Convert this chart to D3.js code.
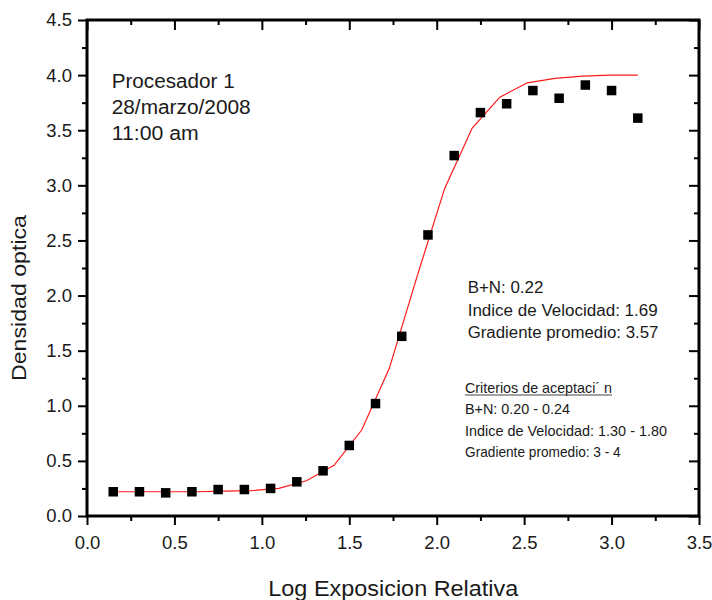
<!DOCTYPE html>
<html>
<head>
<meta charset="utf-8">
<script src="https://cdn.jsdelivr.net/npm/d3@7"></script>
<style>
  html, body { margin: 0; padding: 0; background: #fff; }
  svg { display: block; font-family: "Liberation Sans", Arial, Helvetica, sans-serif; }
</style>
</head>
<body>
<svg id="chart" width="712" height="600"></svg>
<script>
// Measured data points (Log exposicion relativa vs Densidad optica)
const expX = [0.15, 0.30, 0.45, 0.60, 0.75, 0.90, 1.05, 1.20, 1.35, 1.50, 1.65,
              1.80, 1.95, 2.10, 2.25, 2.40, 2.55, 2.70, 2.85, 3.00, 3.15];
const densY = [0.22, 0.22, 0.21, 0.22, 0.24, 0.24, 0.25, 0.31, 0.41, 0.64, 1.02,
               1.63, 2.55, 3.27, 3.66, 3.74, 3.86, 3.79, 3.91, 3.86, 3.61];

// Fitted curve (red polyline)
const fitX = [0.150, 0.308, 0.466, 0.624, 0.782, 0.939, 1.097, 1.255, 1.413, 1.571,
              1.729, 1.887, 2.045, 2.203, 2.361, 2.518, 2.676, 2.834, 2.992, 3.150];
const fitY = [0.22, 0.22, 0.22, 0.22, 0.225, 0.23, 0.25, 0.32, 0.46, 0.78,
              1.34, 2.17, 2.97, 3.52, 3.80, 3.93, 3.97, 3.99, 4.00, 4.00];

// Tick values
const xMajorTicks = [0.0, 0.5, 1.0, 1.5, 2.0, 2.5, 3.0, 3.5];
const xMinorTicks = [0.25, 0.75, 1.25, 1.75, 2.25, 2.75, 3.25];
const yMajorTicks = [0.0, 0.5, 1.0, 1.5, 2.0, 2.5, 3.0, 3.5, 4.0, 4.5];
const yMinorTicks = [0.25, 0.75, 1.25, 1.75, 2.25, 2.75, 3.25, 3.75, 4.25];

// Text
const xTitle = "Log Exposicion Relativa";
const yTitle = "Densidad optica";
const headerLines = ["Procesador 1", "28/marzo/2008", "11:00 am"];
const resultLines = ["B+N: 0.22", "Indice de Velocidad: 1.69", "Gradiente promedio: 3.57"];
const criteriaTitle = "Criterios de aceptaci\u00B4 n";
const criteriaLines = ["B+N: 0.20 - 0.24", "Indice de Velocidad: 1.30 - 1.80", "Gradiente promedio: 3 - 4"];

// Layout
const svg = d3.select("#chart");
const pLeft = 87, pRight = 699, pTop = 20, pBottom = 516;
const x = d3.scaleLinear().domain([0, 3.5]).range([pLeft, pRight]);
const y = d3.scaleLinear().domain([0, 4.5]).range([pBottom, pTop]);
const fmt = d3.format(".1f");
const textColor = "#1a1a1a";

function styleAxis(g) {
  g.select(".domain").remove();
  g.selectAll(".tick line").attr("stroke", "#000").attr("stroke-width", 2);
  g.selectAll(".tick text").attr("fill", textColor).attr("font-size", 18.5)
   .attr("font-family", "Liberation Sans, Arial, sans-serif");
}

// Bottom axis
svg.append("g").attr("transform", `translate(0,${pBottom})`)
  .call(d3.axisBottom(x).tickValues(xMajorTicks).tickSize(9).tickPadding(11).tickFormat(fmt))
  .call(styleAxis);
svg.append("g").attr("transform", `translate(0,${pBottom})`)
  .call(d3.axisBottom(x).tickValues(xMinorTicks).tickSize(5).tickFormat(""))
  .call(styleAxis);
// Left axis
svg.append("g").attr("transform", `translate(${pLeft},0)`)
  .call(d3.axisLeft(y).tickValues(yMajorTicks).tickSize(9).tickPadding(6).tickFormat(fmt))
  .call(styleAxis);
svg.append("g").attr("transform", `translate(${pLeft},0)`)
  .call(d3.axisLeft(y).tickValues(yMinorTicks).tickSize(5).tickFormat(""))
  .call(styleAxis);
// Top axis (inward ticks)
svg.append("g").attr("transform", `translate(0,${pTop})`)
  .call(d3.axisTop(x).tickValues(xMajorTicks).tickSize(-10).tickFormat(""))
  .call(styleAxis);
svg.append("g").attr("transform", `translate(0,${pTop})`)
  .call(d3.axisTop(x).tickValues(xMinorTicks).tickSize(-5).tickFormat(""))
  .call(styleAxis);
// Right axis (inward ticks)
svg.append("g").attr("transform", `translate(${pRight},0)`)
  .call(d3.axisRight(y).tickValues(yMajorTicks).tickSize(-10).tickFormat(""))
  .call(styleAxis);
svg.append("g").attr("transform", `translate(${pRight},0)`)
  .call(d3.axisRight(y).tickValues(yMinorTicks).tickSize(-5).tickFormat(""))
  .call(styleAxis);

// Frame
svg.append("rect")
  .attr("x", pLeft).attr("y", pTop)
  .attr("width", pRight - pLeft).attr("height", pBottom - pTop)
  .attr("fill", "none").attr("stroke", "#000").attr("stroke-width", 3);

// Fitted curve
const fitData = fitX.map((v, i) => ({ x: v, y: fitY[i] }));
svg.append("path")
  .datum(fitData)
  .attr("fill", "none")
  .attr("stroke", "#ff1a1a")
  .attr("stroke-width", 1.2)
  .attr("d", d3.line().x(d => x(d.x)).y(d => y(d.y)));

// Data squares
const pts = expX.map((v, i) => ({ x: v, y: densY[i] }));
const sq = 9.5;
svg.append("g").selectAll("rect").data(pts).join("rect")
  .attr("x", d => x(d.x) - sq / 2)
  .attr("y", d => y(d.y) - sq / 2)
  .attr("width", sq).attr("height", sq)
  .attr("fill", "#000");

// Axis titles
svg.append("text")
  .attr("x", 393.3).attr("y", 596)
  .attr("text-anchor", "middle")
  .attr("font-size", 22.5)
  .attr("fill", textColor)
  .attr("textLength", 250).attr("lengthAdjust", "spacingAndGlyphs")
  .text(xTitle);

svg.append("text")
  .attr("transform", "translate(25.5,298) rotate(-90)")
  .attr("text-anchor", "middle")
  .attr("font-size", 20.5)
  .attr("fill", textColor)
  .attr("textLength", 166).attr("lengthAdjust", "spacingAndGlyphs")
  .text(yTitle);

// Header block
const headerW = [123, 139, 87];
const headerBase = [88.3, 114.3, 140];
headerLines.forEach((t, i) => {
  svg.append("text")
    .attr("x", 111.7).attr("y", headerBase[i])
    .attr("font-size", 20).attr("fill", textColor)
    .attr("textLength", headerW[i]).attr("lengthAdjust", "spacingAndGlyphs")
    .text(t);
});

// Results block
const resW = [75.7, 190, 190.7];
const resBase = [292.7, 316, 338.3];
resultLines.forEach((t, i) => {
  svg.append("text")
    .attr("x", 467.7).attr("y", resBase[i])
    .attr("font-size", 16).attr("fill", textColor)
    .attr("textLength", resW[i]).attr("lengthAdjust", "spacingAndGlyphs")
    .text(t);
});

// Criteria block
svg.append("text")
  .attr("x", 465).attr("y", 392.5)
  .attr("font-size", 14.5).attr("fill", textColor)
  .attr("textLength", 147).attr("lengthAdjust", "spacingAndGlyphs")
  .text(criteriaTitle);
svg.append("line")
  .attr("x1", 465).attr("x2", 612)
  .attr("y1", 395).attr("y2", 395)
  .attr("stroke", "#444").attr("stroke-width", 1);

const critW = [105, 202, 155.7];
const critBase = [414.3, 435.5, 456.5];
criteriaLines.forEach((t, i) => {
  svg.append("text")
    .attr("x", 465).attr("y", critBase[i])
    .attr("font-size", 14.5).attr("fill", textColor)
    .attr("textLength", critW[i]).attr("lengthAdjust", "spacingAndGlyphs")
    .text(t);
});
</script>
</body>
</html>
